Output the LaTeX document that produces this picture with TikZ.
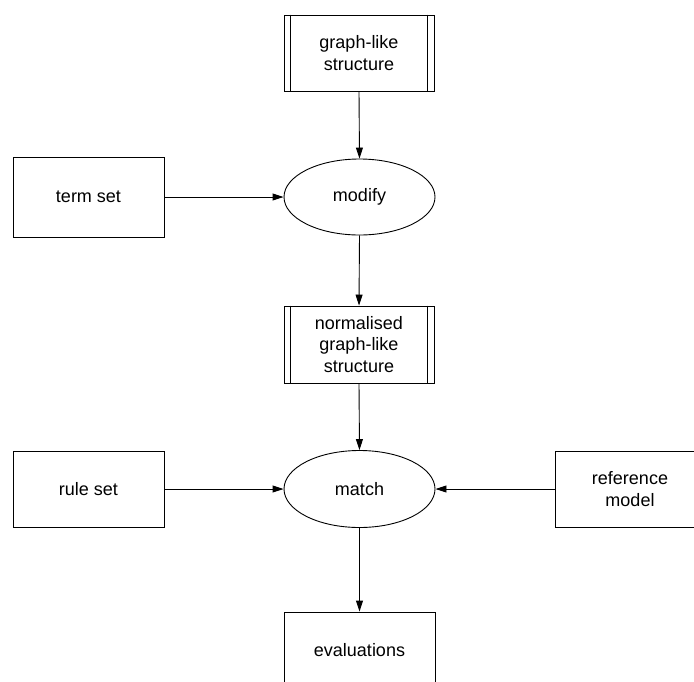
\documentclass[tikz,border=0pt]{standalone}
\usepackage{fontspec}
\setmainfont{Liberation Sans}
\usetikzlibrary{shapes.geometric,arrows.meta,calc}
\begin{document}
\begin{tikzpicture}[x=1pt,y=-1pt,
  every node/.style={font=\fontsize{18}{21.6}\selectfont, align=center, inner sep=0pt, line width=0.9pt},
  box/.style={draw, rectangle, minimum width=150, minimum height=76},
  process/.style={box},
  oval/.style={draw, ellipse, minimum width=151, minimum height=76},
  flow/.style={draw, line width=0.9pt, -{Triangle[length=11pt,width=7pt]}}]
\useasboundingbox (0,0) rectangle (694,681);
\begin{scope}
\clip (0,0) rectangle (694,681);

\node[process] (graph) at (359,53) {graph-like\\structure};
\node[oval] (modify) at (359.5,197) {modify};
\node[box, minimum width=151, minimum height=80] (term) at (88.5,197) {term set};
\node[process, minimum height=77] (norm) at (359,344.5) {normalised\\graph-like\\structure};
\node[oval, minimum height=77] (match) at (359.5,489) {match};
\node[box, minimum width=151] (rule) at (88.5,489) {rule set};
\node[box] (ref) at (630,489) {reference\\model};
\node[box, minimum width=151] (eval) at (359.5,650) {evaluations};

% inner bars of the process boxes
\foreach \n in {graph,norm} {
  \draw[line width=0.9pt] ($(\n.north west)+(7,0)$) -- ($(\n.south west)+(7,0)$);
  \draw[line width=0.9pt] ($(\n.north east)+(-7,0)$) -- ($(\n.south east)+(-7,0)$);
}

\draw[flow] (graph.south) -- (modify.north);
\draw[flow] (term.east) -- (modify.west);
\draw[flow] (modify.south) -- (norm.north);
\draw[flow] (norm.south) -- (match.north);
\draw[flow] (rule.east) -- (match.west);
\draw[flow] (ref.west) -- (match.east);
\draw[flow] (match.south) -- (eval.north);
\end{scope}
\end{tikzpicture}
\end{document}
